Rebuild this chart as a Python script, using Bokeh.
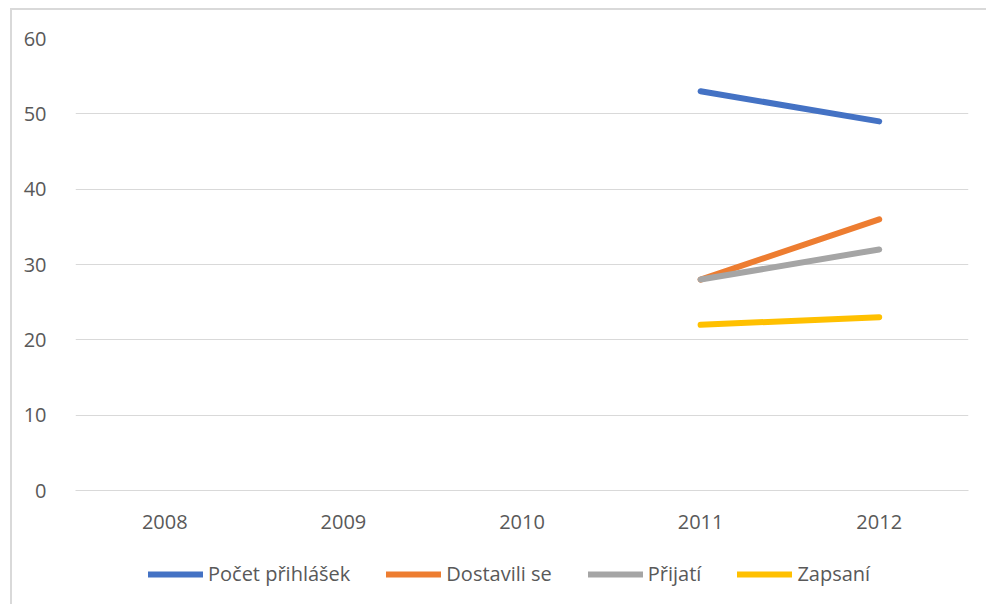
from bokeh.plotting import figure
from bokeh.models import FactorRange, Range1d, Legend, LegendItem, FixedTicker
from bokeh.layouts import column
from bokeh.embed import file_html
from bokeh.resources import INLINE

nan = float("nan")
years = ["2008", "2009", "2010", "2011", "2012"]
pocet_prihlasek = [nan, nan, nan, 53, 49]
dostavili_se = [nan, nan, nan, 28, 36]
prijati = [nan, nan, nan, 28, 32]
zapsani = [nan, nan, nan, 22, 23]
series_names = ["Počet přihlášek", "Dostavili se", "Přijatí", "Zapsaní"]
series_values = [pocet_prihlasek, dostavili_se, prijati, zapsani]
colors = ["#4472C4", "#ED7D31", "#A5A5A5", "#FFC000"]
y_ticks = [0, 10, 20, 30, 40, 50, 60]

FONT = "Open Sans"
TXT = "#595959"
BORDER = "2px solid #d9d9d9"

# main chart
p = figure(width=976, height=530, output_backend="svg", toolbar_location=None,
           x_range=FactorRange(*years, range_padding=0),
           y_range=Range1d(0, 60),
           min_border_left=63, min_border_right=20, min_border_top=28, min_border_bottom=50)
p.margin = (8, 0, 0, 10)
p.styles = {"border-left": BORDER, "border-top": BORDER}
p.outline_line_color = None
p.background_fill_color = "white"
p.border_fill_color = "white"

p.xgrid.grid_line_color = None
p.ygrid.grid_line_color = "#d9d9d9"
p.ygrid.grid_line_width = 1
p.yaxis.ticker = FixedTicker(ticks=y_ticks)

for ax in (p.xaxis[0], p.yaxis[0]):
    ax.major_tick_line_color = None
    ax.minor_tick_line_color = None
    ax.major_label_text_font = FONT
    ax.major_label_text_font_size = "20px"
    ax.major_label_text_color = TXT
p.yaxis.axis_line_color = None
p.xaxis.axis_line_color = "#d9d9d9"
p.yaxis.major_label_standoff = 23
p.xaxis.major_label_standoff = 18

for vals, c in zip(series_values, colors):
    p.line(x=years, y=vals, line_color=c, line_width=6, line_cap="round")

# legend strip (swatch renderers lie outside the visible range)
q = figure(width=976, height=66, output_backend="svg", toolbar_location=None,
           x_range=Range1d(0, 1), y_range=Range1d(0, 1),
           min_border_left=63, min_border_right=20, min_border_top=0, min_border_bottom=0)
q.margin = (0, 0, 0, 10)
q.styles = {"border-left": BORDER}
q.axis.visible = False
q.grid.visible = False
q.outline_line_color = None
q.border_fill_color = "white"

items = []
for name, c in zip(series_names, colors):
    r = q.line(x=[-10, -9], y=[-10, -9], line_color=c, line_width=6, line_cap="round")
    items.append(LegendItem(label=name, renderers=[r]))

legend = Legend(items=items, orientation="horizontal", location=(73, 17),
                glyph_width=55, glyph_height=20, label_standoff=5, spacing=36,
                padding=0, margin=0, border_line_color=None, background_fill_alpha=0,
                label_text_font=FONT, label_text_font_size="20px", label_text_color=TXT)
q.add_layout(legend, "center")

layout = column(p, q, spacing=0)
open("out.html", "w").write(file_html(layout, INLINE))
